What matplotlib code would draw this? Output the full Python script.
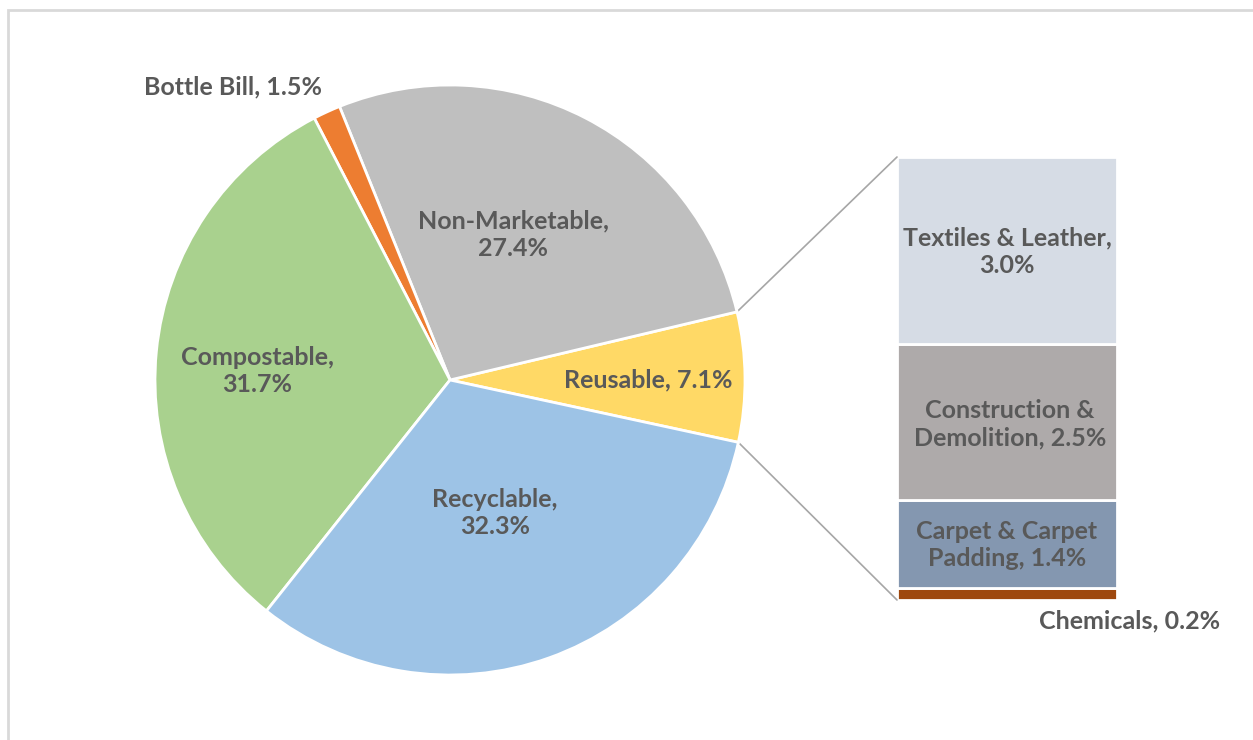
import matplotlib
matplotlib.use("Agg")
import matplotlib.pyplot as plt
from matplotlib.patches import ConnectionPatch, Rectangle
import numpy as np

# ---- data ----
pie_labels = ["Reusable", "Non-Marketable", "Bottle Bill", "Compostable", "Recyclable"]
pie_values = [7.1, 27.4, 1.5, 31.7, 32.3]
pie_colors = ["#FFD966", "#BFBFBF", "#ED7D31", "#A9D18E", "#9DC3E6"]

bar_labels = ["Chemicals", "Carpet & Carpet Padding", "Construction & Demolition", "Textiles & Leather"]
bar_values = [0.2, 1.4, 2.5, 3.0]
bar_colors = ["#9E480E", "#8497B0", "#AEAAAA", "#D6DCE5"]

W, H = 1253, 740
plt.rcParams['font.family'] = ['Lato', 'DejaVu Sans']
TXT = "#595959"
FS = 18

fig = plt.figure(figsize=(W / 100, H / 100), dpi=100, facecolor="white")

# bar of pie (drawn below the main overlay axes)
bx = fig.add_axes([897 / W, (H - 600) / H, 220 / W, 443 / H])
bx.set_zorder(0)
bottom = 0
for v, c in zip(bar_values, bar_colors):
    bx.bar(0, v, bottom=bottom, width=1, color=c, edgecolor="white", linewidth=2)
    bottom += v
bx.set_xlim(-0.5, 0.5)
bx.set_ylim(0, sum(bar_values))
bx.axis("off")

ax = fig.add_axes([0, 0, 1, 1])
ax.set_zorder(1)
ax.patch.set_visible(False)

# frame
ax.add_patch(Rectangle((8, -20), W + 20, H - 10 + 20, fill=False, edgecolor="#D9D9D9", lw=2))

cx, cy, R = 450, 740 - 380, 295
start = -12.2
wedges, _ = ax.pie(pie_values, colors=pie_colors, startangle=start, center=(cx, cy), radius=R,
                   counterclock=True, wedgeprops=dict(edgecolor="white", linewidth=2))
ax.set_xlim(0, W)
ax.set_ylim(0, H)
ax.set_aspect("equal")
ax.axis("off")

def lab(x, y, s):
    ax.text(x, H - y, s, ha="center", va="center", fontsize=FS, fontweight="bold", color=TXT,
            linespacing=1.25)

lab(513, 235, "Non-Marketable,\n27.4%")
lab(648, 380, "Reusable, 7.1%")
lab(495, 513, "Recyclable,\n32.3%")
lab(257, 371, "Compostable,\n31.7%")
lab(233, 87, "Bottle Bill, 1.5%")

lab(1007, 252, "Textiles & Leather,\n3.0%")
lab(1010, 424, "Construction &\nDemolition, 2.5%")
lab(1007, 545, "Carpet & Carpet\nPadding, 1.4%")
lab(1130, 621, "Chemicals, 0.2%")

# connector lines
w = wedges[0]
for ang, yb in [(w.theta2, sum(bar_values)), (w.theta1, 0)]:
    px = cx + R * np.cos(np.radians(ang))
    py = cy + R * np.sin(np.radians(ang))
    con = ConnectionPatch(xyA=(px, py), coordsA=ax.transData, xyB=(-0.5, yb), coordsB=bx.transData,
                          color="#A6A6A6", lw=1.2)
    fig.add_artist(con)

fig.savefig("out.png", dpi=100)
